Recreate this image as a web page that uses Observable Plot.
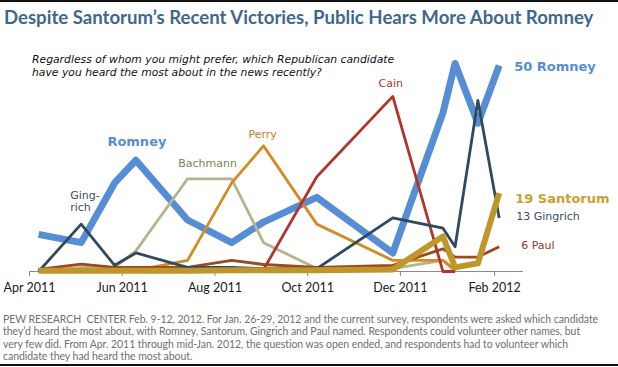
<!DOCTYPE html>
<html>
<head>
<meta charset="utf-8">
<script src="https://cdn.jsdelivr.net/npm/d3@7"></script>
<script src="https://cdn.jsdelivr.net/npm/@observablehq/plot@0.6"></script>
<style>
  html, body { margin: 0; padding: 0; background: #fff; }
  #wrap { position: relative; width: 618px; height: 367px; overflow: hidden; background: #fff; }
  #topRule { position: absolute; left: 0; top: 0; width: 618px; height: 2px; background: #111; }
  #botRule { position: absolute; left: 0; top: 364px; width: 618px; height: 2px; background: #111; }
  #title { position: absolute; left: 4px; top: 6px; font-family: Lato, "Open Sans", sans-serif; font-weight: bold;
           font-size: 18.6px; color: #3e6790; white-space: nowrap; }
  #subtitle { position: absolute; left: 32px; top: 53px; font-family: "DejaVu Sans", sans-serif; font-style: italic;
              font-size: 10.8px; line-height: 13px; color: #111; white-space: nowrap; z-index: 2; }
  #chart { position: absolute; left: 0; top: 40px; }
  #caption { position: absolute; left: 3px; top: 313px; font-family: Lato, sans-serif; font-size: 10.5px;
             line-height: 12.3px; color: #6f6f6f; white-space: nowrap; letter-spacing: -0.05px; }
</style>
</head>
<body>
<div id="wrap">
  <div id="topRule"></div>
  <div id="title">Despite Santorum’s Recent Victories, Public Hears More About Romney</div>
  <div id="subtitle">Regardless of whom you might prefer, which Republican candidate<br>have you heard the most about in the news recently?</div>
  <div id="chart"></div>
  <div id="caption">PEW RESEARCH&nbsp; CENTER Feb. 9-12, 2012. For Jan. 26-29, 2012 and the current survey, respondents were asked which candidate<br>they’d heard the most about, with Romney, Santorum, Gingrich and Paul named. Respondents could volunteer other names, but<br>very few did. From Apr. 2011 through mid-Jan. 2012, the question was open ended, and respondents had to volunteer which<br>candidate they had heard the most about.</div>
  <div id="botRule"></div>
</div>
<script>
// ---- data (percent who heard most about each candidate) ----
const surveyDates = ["2011-04-07","2011-05-05","2011-05-27","2011-06-10","2011-07-14","2011-08-12",
                     "2011-09-02","2011-10-07","2011-11-26","2011-12-29","2012-01-06","2012-01-21","2012-02-04"];
const romney   = [9, 7, 21.5, 27, 12.5, 7, 12, 18, 4.5, 38.5, 50.5, 36, 50];
const gingrich = [0, 11.5, 1.5, 4.5, 1, 1, 0.7, 0.7, 13, 10.5, 6, 41.5, 13];
const santorum = [0.2, 0.2, 0.2, 0.2, 0.2, 0.3, 0.3, 0.3, 0.5, 8.5, 1, 2, 19];
const paul     = [0.5, 1.8, 1, 1, 1, 2.7, 1.7, 1, 1.5, 5.5, 3.5, 3.5, 6];
const cain     = [0.5, 0.5, 0.5, 0.5, 0.5, 0.5, 0.5, 23, 42.5, 0, 0];
const perry    = [0, 0, 0, 0.3, 2.7, 21.5, 30.5, 11.5, 2.7, 2.7, 0.5];
const bachmann = [0, 1, 1, 5, 22.5, 22.5, 7, 0.7, 0.7, 2.7, 0];
const seriesNames = ["Romney", "Bachmann", "Perry", "Paul", "Cain", "Gingrich", "Santorum"];
const tickDates  = ["2011-04-01","2011-06-01","2011-08-01","2011-10-01","2011-12-01","2012-02-01"];
const tickLabels = ["Apr 2011","Jun 2011","Aug 2011","Oct 2011","Dec 2011","Feb 2012"];

// ---- styles ----
const colors = {Romney: "#558ed5", Gingrich: "#2f4a5e", Santorum: "#c0952a", Paul: "#9a4a1e",
                Cain: "#b0352a", Perry: "#d48b24", Bachmann: "#b3b58e"};
const widths = {Romney: 7, Santorum: 6, Gingrich: 2.8, Paul: 2.8, Cain: 2.8, Perry: 2.8, Bachmann: 2.8};
const valuesByName = {Romney: romney, Gingrich: gingrich, Santorum: santorum, Paul: paul,
                      Cain: cain, Perry: perry, Bachmann: bachmann};

const table = {};
for (const name of seriesNames) {
  table[name] = valuesByName[name].map((v, i) => ({name, date: new Date(surveyDates[i]), value: v}));
}

// labels anchored on a series point (index), with pixel offsets
const annotations = [
  {name: "Romney", text: "Romney", idx: 3, dx: 1, dy: -19, anchor: "middle", size: 13, weight: "bold", fill: "#558ed5"},
  {name: "Gingrich", text: "Ging-\nrich", idx: 1, dx: -11, dy: -23, anchor: "start", size: 11, weight: "normal", fill: "#3b4d60"},
  {name: "Bachmann", text: "Bachmann", idx: 4, dx: 20, dy: -16, anchor: "middle", size: 11, weight: "normal", fill: "#7f7f52"},
  {name: "Perry", text: "Perry", idx: 6, dx: -1, dy: -12, anchor: "middle", size: 11, weight: "normal", fill: "#c47f2c"},
  {name: "Cain", text: "Cain", idx: 8, dx: -2, dy: -13, anchor: "middle", size: 11, weight: "normal", fill: "#a3372b"},
  {name: "Romney", text: "50 Romney", idx: 12, dx: 15, dy: 1, anchor: "start", size: 13, weight: "bold", fill: "#558ed5"},
  {name: "Santorum", text: "19 Santorum", idx: 12, dx: 16, dy: 5, anchor: "start", size: 13, weight: "bold", fill: "#c9a032"},
  {name: "Gingrich", text: "13 Gingrich", idx: 12, dx: 17, dy: -2, anchor: "start", size: 11, weight: "normal", fill: "#3b4d60"},
  {name: "Paul", text: "6 Paul", idx: 12, dx: 22, dy: -2, anchor: "start", size: 11, weight: "normal", fill: "#8e3a1f"}
];

const tickMap = new Map(tickDates.map((d, i) => [+new Date(d), tickLabels[i]]));

const marks = [
  Plot.ruleY([0], {stroke: "#8a8a8a", strokeWidth: 1.2}),
  Plot.axisX({ticks: tickDates.map(d => new Date(d)), tickFormat: d => tickMap.get(+d),
              tickSize: 5, tickPadding: 7, stroke: "#8a8a8a", fill: "#1a1a1a", fontSize: 12.5}),
  ...seriesNames.map(name => Plot.line(table[name], {
    x: "date", y: "value", stroke: colors[name], strokeWidth: widths[name],
    strokeLinejoin: "round", strokeLinecap: "butt"
  })),
  ...annotations.map(a => Plot.text([table[a.name][a.idx]], {
    x: "date", y: "value", text: () => a.text, dx: a.dx, dy: a.dy, textAnchor: a.anchor,
    lineAnchor: "middle", lineHeight: 1.1, fontSize: a.size, fontWeight: a.weight, fill: a.fill,
    fontFamily: "DejaVu Sans"
  }))
];

const chart = Plot.plot({
  width: 618, height: 262,
  marginLeft: 29, marginRight: 95, marginTop: 25, marginBottom: 31,
  x: {type: "utc", domain: [new Date("2011-04-01"), new Date("2012-02-20")], axis: null},
  y: {domain: [0, 50], axis: null},
  style: {background: "transparent", fontFamily: "Lato, sans-serif", overflow: "visible", color: "#1a1a1a"},
  marks
});
document.getElementById("chart").appendChild(chart);
</script>
</body>
</html>
